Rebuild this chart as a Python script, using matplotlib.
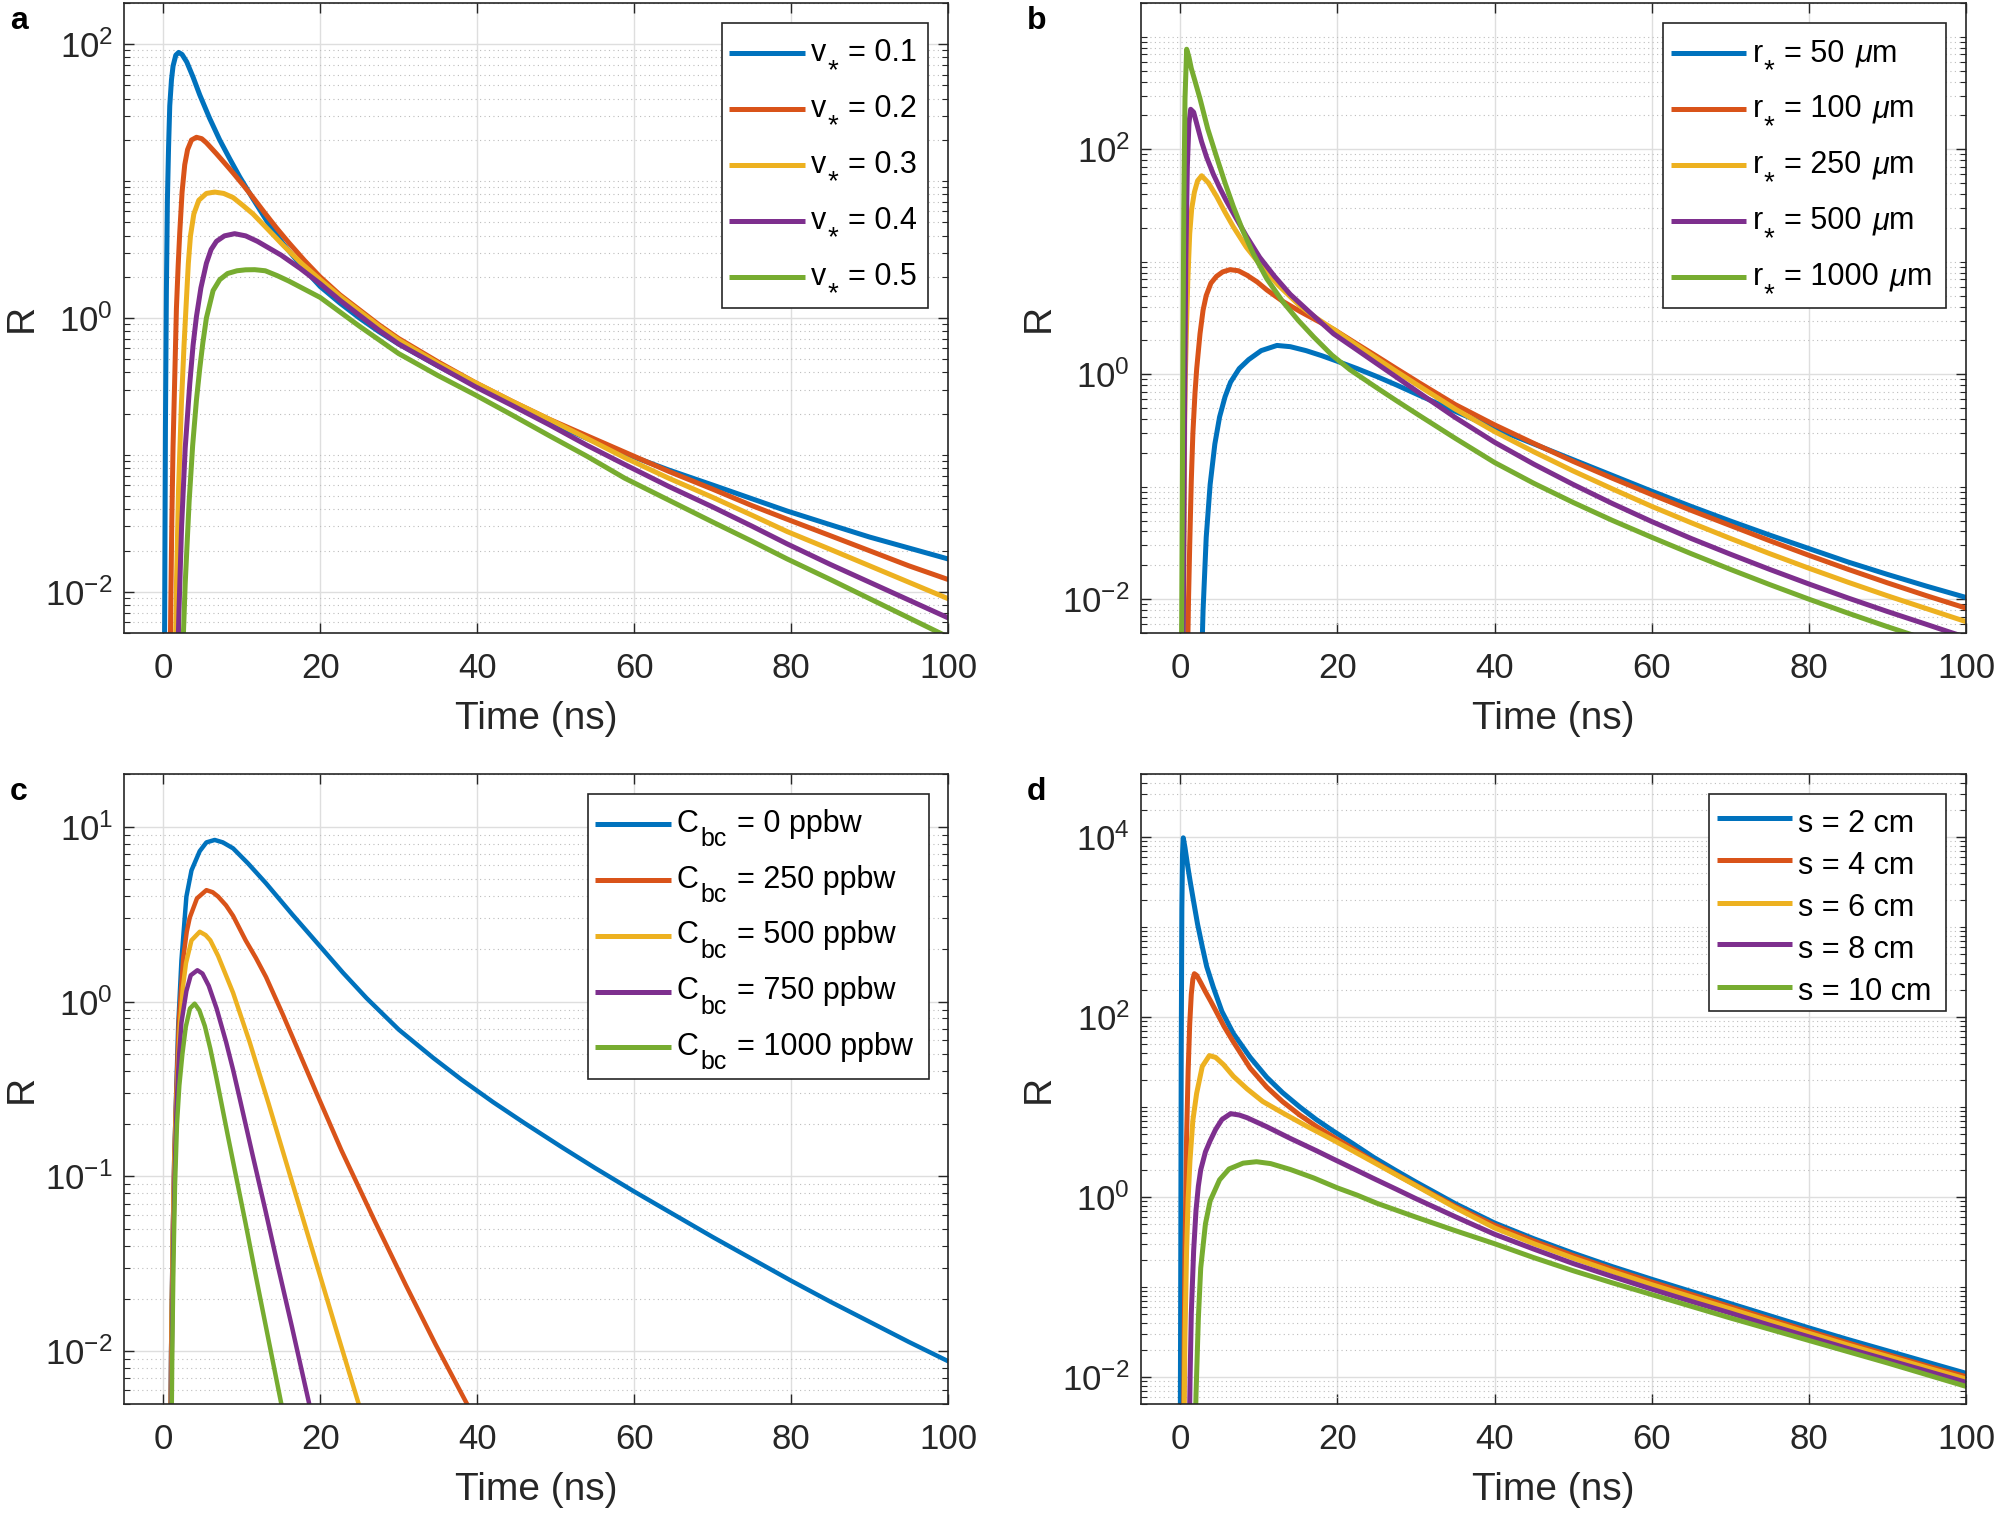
import matplotlib
matplotlib.use("Agg")
import matplotlib.pyplot as plt
import numpy as np
from matplotlib.lines import Line2D
from matplotlib.patches import Rectangle
from matplotlib.ticker import FixedLocator, NullLocator, NullFormatter, LogFormatterSciNotation

plt.rcParams["font.family"] = ["Liberation Sans", "DejaVu Sans"]
plt.rcParams["mathtext.fontset"] = "custom"
plt.rcParams["mathtext.rm"] = "Liberation Sans"
plt.rcParams["mathtext.it"] = "Liberation Sans:italic"
plt.rcParams["axes.unicode_minus"] = False

COLORS = ["#0072BD", "#D95319", "#EDB120", "#7E2F8E", "#77AC30"]
INK = "#262626"

# ---- values: time (ns) and log10(R) per curve ----
a_t = [
    [0.15, 0.2, 0.28, 0.4, 0.53, 0.68, 0.83, 1.05, 1.25, 1.6, 1.97, 2.4, 3.0, 3.8, 4.65, 5.9, 7.2, 8.5, 9.75, 11.44,
     13.3, 15.3, 17.6, 20, 22.5, 25, 27.5, 30, 35, 39.7, 44.5, 49.2, 54, 58.8, 64.4, 70, 75, 79.5, 85, 90, 95, 100],
    [0.85, 0.95, 1.1, 1.25, 1.46, 1.68, 1.9, 2.1, 2.4, 2.74, 3.1, 3.6, 4.23, 4.9, 5.5, 6.78, 8.0, 8.9, 10.2, 11.44,
     12.9, 14.4, 16, 18, 20, 22.5, 25, 27.5, 30, 35, 39.7, 44.5, 49.2, 54, 58.8, 64.4, 70, 75, 79.5, 85, 90, 95, 100],
    [1.5, 1.7, 1.95, 2.32, 2.65, 2.95, 3.2, 3.47, 3.9, 4.53, 5.5, 6.56, 7.7, 8.9, 10.2, 11.44, 13.3, 15.3, 17.6, 20,
     22.5, 25, 27.5, 30, 35, 39.7, 44.5, 49.2, 54, 58.8, 64.4, 70, 75, 79.5, 85, 90, 95, 100],
    [1.8, 2.0, 2.34, 2.8, 3.38, 3.8, 4.23, 4.8, 5.5, 6.1, 6.78, 7.8, 9.1, 10.5, 12, 13.5, 15, 17.5, 20, 22.5, 25,
     27.5, 30, 35, 39.7, 44.5, 49.2, 54, 58.8, 64.4, 70, 75, 79.5, 85, 90, 95, 100],
    [2.5, 2.8, 3.3, 3.75, 4.23, 4.65, 5.05, 5.5, 6.35, 7.2, 8.2, 9.4, 10.5, 11.66, 13, 14.5, 16, 18, 20, 22.5, 25,
     27.5, 30, 35, 39.7, 44.5, 49.2, 54, 58.8, 64.4, 70, 75, 79.5, 85, 90, 95, 100],
]
a_logR = [
    [-2.7, -1.9, -0.8, 0.19, 0.86, 1.25, 1.55, 1.74, 1.84, 1.92, 1.94, 1.925, 1.87, 1.76, 1.63, 1.46, 1.30, 1.16, 1.03, 0.87,
     0.70, 0.54, 0.38, 0.23, 0.11, 0.0, -0.10, -0.19, -0.35, -0.49, -0.63, -0.76, -0.88, -0.99, -1.11, -1.22, -1.32, -1.41, -1.51, -1.60, -1.68, -1.76],
    [-2.7, -2.15, -1.46, -0.94, -0.45, 0.07, 0.38, 0.62, 0.92, 1.12, 1.23, 1.30, 1.32, 1.31, 1.28, 1.20, 1.12, 1.06, 0.97, 0.88,
     0.77, 0.66, 0.55, 0.42, 0.30, 0.17, 0.06, -0.05, -0.15, -0.32, -0.47, -0.61, -0.74, -0.86, -0.98, -1.12, -1.25, -1.37, -1.47, -1.59, -1.70, -1.81, -1.91],
    [-2.6, -1.9, -1.25, -0.62, -0.2, 0.13, 0.40, 0.60, 0.76, 0.86, 0.91, 0.92, 0.91, 0.88, 0.82, 0.76, 0.65, 0.53, 0.40, 0.28,
     0.16, 0.05, -0.06, -0.16, -0.33, -0.47, -0.61, -0.74, -0.88, -1.02, -1.17, -1.31, -1.44, -1.56, -1.69, -1.81, -1.93, -2.05],
    [-2.6, -2.15, -1.52, -0.95, -0.48, -0.2, 0.01, 0.22, 0.40, 0.50, 0.56, 0.60, 0.616, 0.60, 0.56, 0.51, 0.46, 0.36, 0.25, 0.13, 0.02,
     -0.09, -0.19, -0.35, -0.50, -0.64, -0.78, -0.93, -1.07, -1.23, -1.38, -1.52, -1.65, -1.80, -1.93, -2.06, -2.19],
    [-2.42, -1.94, -1.34, -0.93, -0.60, -0.37, -0.18, 0.0, 0.20, 0.28, 0.325, 0.345, 0.352, 0.353, 0.345, 0.31, 0.27, 0.21, 0.15, 0.045, -0.06,
     -0.16, -0.26, -0.42, -0.56, -0.71, -0.86, -1.01, -1.17, -1.33, -1.49, -1.63, -1.76, -1.91, -2.05, -2.19, -2.33],
]

b_t = [
    [2.7, 2.9, 3.3, 3.8, 4.4, 5.0, 5.7, 6.4, 7.5, 8.7, 10.3, 12.3, 14, 16, 18, 20, 22.5, 25, 27.5, 30.5, 35, 40, 45, 50,
     55, 60, 65, 70, 75, 80, 85, 90, 95, 100],
    [0.95, 1.05, 1.2, 1.4, 1.6, 1.87, 2.09, 2.51, 2.9, 3.3, 3.9, 4.6, 5.4, 6.33, 7.4, 8.5, 9.8, 11, 13, 15.2, 17.3, 19.5,
     22, 25, 27.5, 30.5, 35, 40, 45, 50, 55, 60, 65, 70, 75, 80, 85, 90, 95, 100],
    [0.3, 0.4, 0.56, 0.65, 0.77, 0.95, 1.2, 1.45, 1.8, 2.2, 2.72, 3.6, 4.63, 5.7, 6.76, 8.4, 10.1, 12.5, 15.2, 17.3, 19.5,
     22, 25, 27.5, 30.5, 35, 40, 45, 50, 55, 60, 65, 70, 75, 80, 85, 90, 95, 100],
    [0.35, 0.45, 0.55, 0.7, 0.9, 1.1, 1.32, 1.7, 2.2, 2.7, 3.35, 4.2, 5.0, 5.8, 6.76, 8.4, 10.1, 12, 14, 16.8, 19.5, 22,
     25, 27.5, 30.5, 35, 40, 45, 50, 55, 60, 65, 70, 75, 80, 85, 90, 95, 97.8, 100],
    [0.15, 0.25, 0.35, 0.45, 0.6, 0.81, 1.1, 1.4, 1.9, 2.51, 3.5, 4.63, 5.7, 6.76, 8.0, 9.3, 11, 13.1, 15, 17, 19.3, 21.6,
     25, 27.5, 30.5, 35, 40, 45, 50, 55, 60, 65, 70, 75, 80, 85, 90, 95],
]
b_logR = [
    [-2.6, -2.1, -1.45, -0.98, -0.62, -0.38, -0.2, -0.07, 0.05, 0.13, 0.21, 0.256, 0.245, 0.21, 0.165, 0.115, 0.05, -0.02,
     -0.095, -0.19, -0.33, -0.48, -0.62, -0.76, -0.90, -1.04, -1.175, -1.305, -1.43, -1.55, -1.67, -1.78, -1.885, -1.985],
    [-2.4, -2.0, -1.52, -0.95, -0.53, -0.17, 0.05, 0.36, 0.57, 0.70, 0.81, 0.87, 0.91, 0.93, 0.92, 0.88, 0.82, 0.75, 0.65,
     0.56, 0.48, 0.40, 0.29, 0.16, 0.05, -0.08, -0.27, -0.45, -0.615, -0.775, -0.925, -1.07, -1.21, -1.345, -1.48, -1.61,
     -1.735, -1.855, -1.97, -2.08],
    [-2.6, -2.31, -0.41, 0.0, 0.36, 0.82, 1.25, 1.47, 1.62, 1.72, 1.765, 1.70, 1.58, 1.44, 1.31, 1.13, 0.98, 0.79, 0.61,
     0.50, 0.40, 0.28, 0.14, 0.025, -0.11, -0.31, -0.51, -0.69, -0.86, -1.02, -1.175, -1.32, -1.46, -1.595, -1.725, -1.85,
     -1.97, -2.085, -2.20],
    [-2.6, -1.4, -0.3, 1.0, 1.85, 2.23, 2.356, 2.33, 2.2, 2.07, 1.93, 1.78, 1.66, 1.55, 1.43, 1.23, 1.04, 0.87, 0.71, 0.53,
     0.36, 0.24, 0.095, -0.025, -0.17, -0.385, -0.605, -0.80, -0.98, -1.15, -1.31, -1.46, -1.60, -1.735, -1.865, -1.99,
     -2.11, -2.225, -2.29, -2.34],
    [-2.6, -1.2, 0.3, 1.5, 2.45, 2.89, 2.82, 2.72, 2.6, 2.45, 2.18, 1.93, 1.70, 1.49, 1.27, 1.07, 0.85, 0.64, 0.48, 0.33,
     0.17, 0.04, -0.12, -0.235, -0.37, -0.57, -0.785, -0.97, -1.14, -1.30, -1.45, -1.595, -1.735, -1.87, -2.0, -2.125,
     -2.245, -2.36],
]

c_t = [
    [0.9, 1.0, 1.2, 1.4, 1.6, 1.9, 2.32, 2.95, 3.6, 4.65, 5.5, 6.56, 7.6, 8.9, 10.8, 13.1, 16.5, 19.9, 22.9, 25.9, 30,
     34.4, 38, 42, 46, 50.8, 55, 60, 65, 70, 75, 80, 85, 90, 95, 100],
    [0.9, 1.0, 1.2, 1.4, 1.6, 2.0, 2.55, 3.0, 3.38, 4.3, 5.5, 6.3, 7.0, 8.0, 8.9, 10.5, 11.8, 13.1, 15.2, 17.4, 19.5,
     22.7, 26.9, 30.9, 34.7, 38.7, 40],
    [0.95, 1.05, 1.2, 1.4, 1.6, 2.1, 2.5, 2.9, 3.6, 4.65, 5.4, 6.0, 7.0, 8.9, 11, 13.4, 16, 19.4, 22, 24.9, 26],
    [1.0, 1.1, 1.25, 1.45, 1.7, 2.0, 2.32, 2.95, 3.5, 4.35, 5.0, 5.8, 6.8, 8.0, 8.9, 9.8, 11.4, 13.0, 14.6, 16.4, 18.6, 19.5],
    [1.05, 1.15, 1.3, 1.5, 1.75, 2.05, 2.44, 2.87, 3.4, 4.0, 4.6, 5.3, 6.0, 6.7, 7.3, 8.2, 9.1, 10.5, 11.8, 13.4, 15.0, 15.5],
]
c_logR = [
    [-2.5, -2.0, -1.37, -0.9, -0.6, -0.145, 0.237, 0.60, 0.75, 0.86, 0.91, 0.924, 0.91, 0.876, 0.79, 0.676, 0.495, 0.32,
     0.165, 0.02, -0.16, -0.322, -0.446, -0.574, -0.694, -0.833, -0.951, -1.086, -1.216, -1.346, -1.471, -1.596, -1.716,
     -1.831, -1.946, -2.056],
    [-2.5, -2.0, -1.37, -0.9, -0.6, -0.1, 0.25, 0.40, 0.48, 0.59, 0.637, 0.625, 0.60, 0.55, 0.49, 0.35, 0.25, 0.14,
     -0.07, -0.30, -0.52, -0.85, -1.25, -1.62, -1.96, -2.30, -2.41],
    [-2.5, -2.0, -1.37, -0.95, -0.65, -0.15, 0.08, 0.22, 0.35, 0.399, 0.38, 0.35, 0.26, 0.05, -0.23, -0.58, -0.97,
     -1.48, -1.87, -2.30, -2.46],
    [-2.5, -2.0, -1.45, -1.0, -0.6, -0.32, -0.12, 0.06, 0.15, 0.179, 0.16, 0.09, -0.04, -0.23, -0.39, -0.565, -0.88,
     -1.19, -1.51, -1.86, -2.30, -2.48],
    [-2.5, -2.0, -1.5, -1.05, -0.7, -0.48, -0.30, -0.145, -0.04, -0.012, -0.05, -0.14, -0.27, -0.42, -0.555, -0.76,
     -0.96, -1.27, -1.57, -1.93, -2.29, -2.40],
]

d_t = [
    [0.0, 0.05, 0.12, 0.2, 0.28, 0.38, 0.6, 0.9, 1.25, 1.66, 2.2, 2.8, 3.36, 4.2, 5.3, 6.76, 8.9, 11, 13, 15.2, 17.3,
     19.5, 22, 24.6, 27.5, 30, 35, 40, 45, 50, 55, 60, 65, 70, 75, 80, 85, 90, 95, 100],
    [0.42, 0.5, 0.6, 0.8, 1.0, 1.2, 1.4, 1.6, 1.79, 2.1, 2.6, 3.2, 3.9, 4.63, 5.6, 6.7, 7.8, 8.9, 11, 13, 15.2, 17.3,
     19.5, 22, 24.6, 27.5, 30, 35, 40, 45, 50, 55, 60, 65, 70, 75, 80, 85, 90, 95, 100],
    [0.5, 0.6, 0.8, 1.0, 1.23, 1.6, 2.08, 2.8, 3.7, 4.5, 5.5, 6.76, 8.5, 10.5, 13.1, 16, 19.5, 22, 24.6, 27.5, 30, 35,
     40, 45, 50, 55, 60, 65, 70, 75, 80, 85, 90, 95, 100],
    [1.15, 1.25, 1.4, 1.7, 2.0, 2.3, 2.6, 3.2, 3.78, 4.5, 5.3, 6.4, 7.5, 8.5, 11, 14, 17.4, 19.5, 22, 24.6, 27.5, 30, 35,
     40, 45, 50, 55, 60, 65, 70, 75, 80, 85, 90, 95, 100],
    [1.9, 2.0, 2.3, 2.6, 3.2, 3.8, 5.0, 6.2, 8.0, 9.7, 11.5, 14, 17, 20, 22.5, 25, 30, 35, 40, 45, 50, 55, 60, 65,
     70, 75, 80, 85, 90, 95, 100],
]
d_logR = [
    [-2.6, -1.0, 1.6, 3.2, 3.8, 3.99, 3.88, 3.70, 3.51, 3.30, 3.03, 2.78, 2.56, 2.33, 2.06, 1.815, 1.55, 1.33, 1.16, 1.0,
     0.86, 0.73, 0.59, 0.44, 0.29, 0.165, -0.075, -0.29, -0.465, -0.625, -0.775, -0.915, -1.05, -1.185, -1.32, -1.455,
     -1.585, -1.71, -1.835, -1.96],
    [-2.6, -1.57, -0.58, 0.66, 1.4, 1.92, 2.25, 2.42, 2.48, 2.46, 2.38, 2.28, 2.17, 2.05, 1.89, 1.73, 1.58, 1.43, 1.22,
     1.06, 0.91, 0.785, 0.665, 0.535, 0.395, 0.25, 0.13, -0.105, -0.315, -0.49, -0.652, -0.803, -0.945, -1.082, -1.219,
     -1.356, -1.491, -1.623, -1.75, -1.877, -1.997],
    [-2.3, -1.54, -0.6, -0.02, 0.40, 0.85, 1.15, 1.45, 1.57, 1.55, 1.47, 1.34, 1.20, 1.06, 0.93, 0.79, 0.63, 0.51,
     0.385, 0.245, 0.125, -0.12, -0.345, -0.52, -0.68, -0.83, -0.975, -1.11, -1.245, -1.38, -1.515, -1.646, -1.772,
     -1.898, -2.023],
    [-2.6, -2.0, -1.3, -0.6, -0.15, 0.12, 0.30, 0.50, 0.62, 0.75, 0.86, 0.925, 0.91, 0.88, 0.78, 0.65, 0.51, 0.42, 0.315,
     0.205, 0.085, -0.02, -0.22, -0.415, -0.58, -0.74, -0.885, -1.025, -1.16, -1.29, -1.425, -1.555, -1.685, -1.81,
     -1.935, -2.06],
    [-2.6, -2.2, -1.35, -0.79, -0.3, -0.044, 0.19, 0.31, 0.375, 0.391, 0.37, 0.305, 0.21, 0.10, 0.02, -0.07, -0.225,
     -0.375, -0.52, -0.675, -0.82, -0.955, -1.085, -1.215, -1.345, -1.47, -1.595, -1.72, -1.845, -1.975, -2.105],
]

# legend entries: (text, kind, gap_px) with kind n = normal, s = subscript, i = italic
a_labels = [[("v", "n", 0), ("*", "s", 1), ("= " + v, "n", 10)] for v in ["0.1", "0.2", "0.3", "0.4", "0.5"]]
b_labels = [[("r", "n", 0), ("*", "s", 0), ("= " + v, "n", 10), ("\u03bc", "i", 11), ("m", "n", 0)]
            for v in ["50", "100", "250", "500", "1000"]]
c_labels = [[("C", "n", 0), ("bc", "s", 2), ("= " + v + " ppbw", "n", 10)] for v in ["0", "250", "500", "750", "1000"]]
d_labels = [[("s = " + v + " cm", "n", 0)] for v in ["2", "4", "6", "8", "10"]]

x_ticks = [0, 20, 40, 60, 80, 100]

W, H = 1998, 1513
fig = plt.figure(figsize=(W / 100, H / 100), dpi=100)
renderer = fig.canvas.get_renderer()


def px_axes(x0, y0, x1, y1):
    return fig.add_axes([x0 / W, 1 - y1 / H, (x1 - x0) / W, (y1 - y0) / H])


def draw_legend(box, rows_y, hx, tx, base_dy, sub_dy, sub_size, entries):
    x0, y0, x1, y1 = box
    fig.add_artist(Rectangle((x0 / W, 1 - y1 / H), (x1 - x0) / W, (y1 - y0) / H, transform=fig.transFigure,
                             facecolor="white", edgecolor=INK, lw=1.2, zorder=5))
    for yc, col, pieces in zip(rows_y, COLORS, entries):
        fig.add_artist(Line2D([hx[0] / W, hx[1] / W], [1 - yc / H] * 2, transform=fig.transFigure,
                              color=col, lw=3.6, zorder=6, solid_capstyle="butt"))
        x = tx
        for txt, kind, gap in pieces:
            x += gap
            yb = yc + base_dy + (sub_dy if kind == "s" else 0)
            t = fig.text(x / W, 1 - yb / H, txt, fontsize=sub_size if kind == "s" else 22,
                         fontstyle="italic" if kind == "i" else "normal",
                         ha="left", va="baseline", color="black", zorder=7)
            x = t.get_window_extent(renderer).x1


rows_top = [53.3, 109, 165, 221, 277]
rows_c = [824, 880, 935.7, 991.7, 1047.3]
rows_d = [818.3, 860, 902.7, 944.3, 986.7]

panels = [
    ("a", (124, 3, 948, 633), a_t, a_logR, (5e-3, 2e2), [1e-2, 1, 1e2], 3.6,
     ((721.7, 22.7, 928, 308), rows_top, (729, 805), 811, 7.7, 17, 20, a_labels)),
    ("b", (1141, 3, 1966, 633), b_t, b_logR, (5e-3, 2e3), [1e-2, 1, 1e2], 3.6,
     ((1662.7, 22.7, 1945.7, 308), rows_top, (1670.5, 1746), 1753, 8.3, 17, 20, b_labels)),
    ("c", (124, 774, 948, 1404), c_t, c_logR, (5e-3, 2e1), [1e-2, 1e-1, 1, 1e1], 3.2,
     ((587.7, 793.7, 929.3, 1079), rows_c, (595, 671), 677, 7.7, 14.3, 18, c_labels)),
    ("d", (1141, 774, 1966, 1404), d_t, d_logR, (5e-3, 5e4), [1e-2, 1, 1e2, 1e4], 3.6,
     ((1708.7, 793.7, 1945.7, 1010.7), rows_d, (1716.7, 1792.3), 1798, 13.5, 0, 22, d_labels)),
]

for letter, box, ts, lrs, ylim, majors, lw, leg in panels:
    ax = px_axes(*box)
    for t, lr, col in zip(ts, lrs, COLORS):
        ax.plot(t, 10 ** np.array(lr), color=col, lw=lw, solid_joinstyle="round")
    ax.set_yscale("log")
    ax.set_xlim(-5, 100)
    ax.set_ylim(*ylim)
    ax.set_xticks(x_ticks)
    ax.xaxis.set_minor_locator(NullLocator())
    minors = [k * 10.0 ** n for n in range(-3, 6) for k in range(1, 10)
              if ylim[0] <= k * 10.0 ** n <= ylim[1] and not any(np.isclose(k * 10.0 ** n, m) for m in majors)]
    ax.yaxis.set_major_locator(FixedLocator(majors))
    ax.yaxis.set_major_formatter(LogFormatterSciNotation())
    ax.yaxis.set_minor_locator(FixedLocator(minors))
    ax.yaxis.set_minor_formatter(NullFormatter())
    ax.grid(which="major", color="#dedede", lw=1.0, ls="-")
    ax.grid(which="minor", axis="y", color="#bdbdbd", lw=0.8, ls=(0, (1, 3)))
    ax.set_axisbelow(True)
    ax.tick_params(which="both", direction="in", top=True, right=True, color=INK,
                   labelcolor=INK, labelsize=25)
    ax.tick_params(axis="x", pad=14)
    ax.tick_params(axis="y", pad=8)
    ax.tick_params(which="major", length=7, width=1.0)
    ax.tick_params(which="minor", length=4, width=0.8)
    for s in ax.spines.values():
        s.set_color(INK)
        s.set_linewidth(1.2)
    ax.set_xlabel("Time (ns)", fontsize=28, color=INK)
    ax.set_ylabel("R", fontsize=28, color=INK)
    ax.xaxis.set_label_coords(0.5, -0.108)
    ax.yaxis.set_label_coords(-0.102, 0.5)
    draw_legend(*leg)
    fig.text((box[0] - 114) / W, 1 - (box[1] + 26) / H, letter, fontsize=23,
             fontweight="bold", ha="left", va="baseline")

fig.savefig("out.png", dpi=100)
